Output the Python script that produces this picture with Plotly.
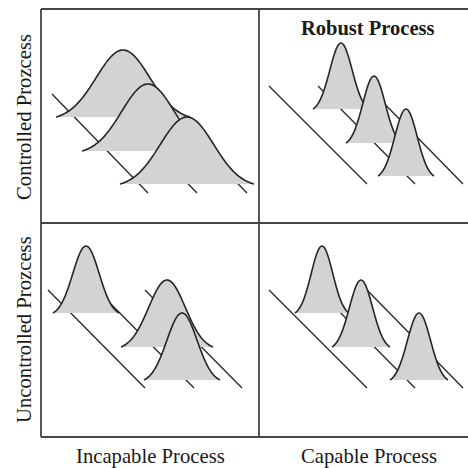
import numpy as np
import plotly.graph_objects as go

# ---- data (diagram, pixel-like units) ----
row_labels = ["Controlled Prozcess", "Uncontrolled Prozcess"]
col_labels = ["Incapable Process", "Capable Process"]
highlight_label = "Robust Process"

# quadrants: TL, TR, BL, BR
rail_top_y = [94, 86, 290, 290]
rail_bottom_y = [193, 184, 388, 388]
rail_top_x = [[52, 101, 150], [269, 318, 367], [48, 97, 145], [269, 318, 367]]
rail_bottom_x = [[148, 197, 247], [367, 415, 463], [145, 194, 242], [367, 415, 463]]

curve_center = [[123, 148, 187], [341, 374, 406], [86, 167, 182], [322, 361, 419]]
curve_base = [[117, 151, 184], [109, 143, 176], [313, 347, 380], [313, 347, 380]]
curve_halfwidth = [[67, 66, 67], [28, 28, 28], [33, 46, 38], [27, 29, 29]]
curve_height = [[67, 67, 67], [66, 67, 67], [67, 67, 67], [67, 67, 67]]

# ---- styling ----
INK = "#262626"
FILL = "#d3d3d3"
BOX = "#454545"

fig = go.Figure()


def bell(c, base, hw, h, n=120):
    sig = hw / 2.5
    t = np.linspace(-hw, hw, n)
    e0 = np.exp(-0.5 * (hw / sig) ** 2)
    g = (np.exp(-0.5 * (t / sig) ** 2) - e0) / (1 - e0)
    return c + t, base - h * g


for q in range(4):
    for k in range(3):
        fig.add_trace(go.Scatter(
            x=[rail_top_x[q][k], rail_bottom_x[q][k]],
            y=[rail_top_y[q], rail_bottom_y[q]],
            mode="lines", line=dict(color=INK, width=1.3),
            hoverinfo="skip", showlegend=False))
    for k in range(3):
        xs, ys = bell(curve_center[q][k], curve_base[q][k],
                      curve_halfwidth[q][k], curve_height[q][k])
        fig.add_trace(go.Scatter(
            x=list(xs), y=list(ys), mode="lines", fill="toself",
            fillcolor=FILL, line=dict(width=0, color=FILL),
            hoverinfo="skip", showlegend=False))
        fig.add_trace(go.Scatter(
            x=list(xs), y=list(ys), mode="lines",
            line=dict(color=INK, width=1.6, shape="spline"),
            hoverinfo="skip", showlegend=False))

L, T, B, R = 41, 9, 437, 472
MX, MY = 259, 223
shapes = [
    dict(type="line", x0=L, x1=R, y0=T, y1=T),
    dict(type="line", x0=L, x1=R, y0=B, y1=B),
    dict(type="line", x0=L, x1=L, y0=T, y1=B),
    dict(type="line", x0=MX, x1=MX, y0=T, y1=B),
    dict(type="line", x0=L, x1=R, y0=MY, y1=MY),
]
for s in shapes:
    s.update(xref="x", yref="y", line=dict(color=BOX, width=1.8))

serif = "Liberation Serif, Times New Roman, serif"
FS = 20.7
ann = [
    dict(x=367.5, y=28, text="<b>" + highlight_label + "</b>", showarrow=False,
         font=dict(family=serif, size=20.5, color="#1a1a1a")),
    dict(x=150, y=456, text=col_labels[0], showarrow=False,
         font=dict(family=serif, size=FS, color="#1a1a1a")),
    dict(x=368.5, y=456, text=col_labels[1], showarrow=False,
         font=dict(family=serif, size=FS, color="#1a1a1a")),
    dict(x=24, y=117, text=row_labels[0], showarrow=False, textangle=-90,
         font=dict(family=serif, size=FS, color="#1a1a1a")),
    dict(x=24, y=330, text=row_labels[1], showarrow=False, textangle=-90,
         font=dict(family=serif, size=FS, color="#1a1a1a")),
]
for a in ann:
    a.update(xref="x", yref="y")

fig.update_layout(
    width=468, height=468, margin=dict(l=0, r=0, t=0, b=0),
    paper_bgcolor="white", plot_bgcolor="white",
    xaxis=dict(range=[0, 468], visible=False, fixedrange=True),
    yaxis=dict(range=[468, 0], visible=False, fixedrange=True),
    shapes=shapes, annotations=ann, showlegend=False,
)

fig.write_html(
    "out.html", config={"displayModeBar": False},
    post_script="document.body.style.margin='0';document.body.style.padding='0';"
                "document.body.style.overflow='hidden';",
)
